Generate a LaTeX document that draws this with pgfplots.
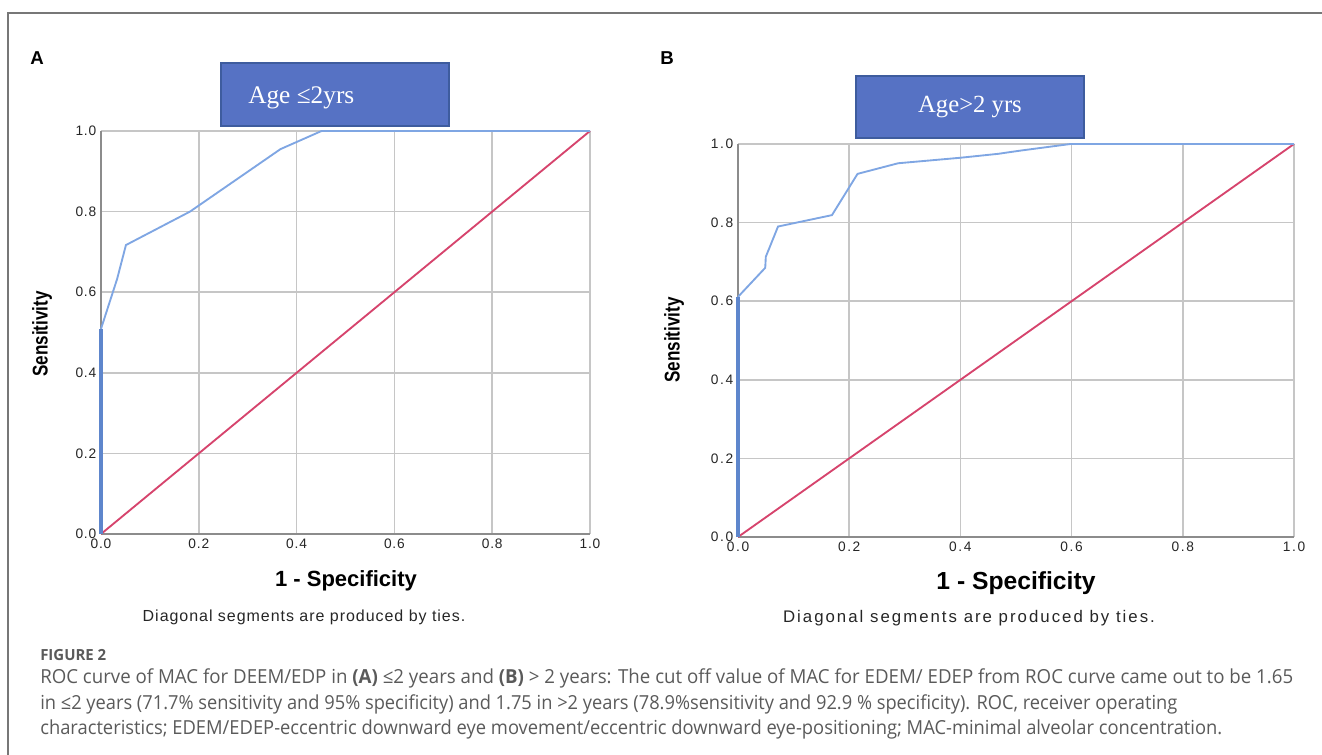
\documentclass[border=0pt]{standalone}
\usepackage{pgfplots}
\pgfplotsset{compat=1.18}
\usepackage{fontspec}
\setmainfont{Liberation Sans}
\newfontfamily\tickfont[LetterSpace=6]{Liberation Sans}
\newfontfamily\tickfontB[LetterSpace=12]{Liberation Sans}
\newfontfamily\boxfont{Liberation Serif}
\newfontfamily\narrowfont[FakeStretch=0.8]{Liberation Sans}
\newfontfamily\capfont{Open Sans}
\definecolor{roc}{HTML}{7FA6E3}
\definecolor{rocdark}{HTML}{5E86CC}
\definecolor{diag}{HTML}{D6446D}
\definecolor{gridc}{HTML}{C6C6C6}
\definecolor{axisc}{HTML}{8C8C8C}
\definecolor{boxfill}{HTML}{5672C4}
\definecolor{boxdraw}{HTML}{3E5C9E}
\definecolor{capc}{HTML}{5A5A5A}
\definecolor{framec}{HTML}{777777}

\pgfplotsset{rocaxis/.style={
  scale only axis, anchor=south west,
  xmin=0, xmax=1, ymin=0, ymax=1,
  xtick={0,0.2,0.4,0.6,0.8,1}, ytick={0,0.2,0.4,0.6,0.8,1},
  xticklabels={0.0,0.2,0.4,0.6,0.8,1.0},
  yticklabels={0.0,0.2,0.4,0.6,0.8,1.0},
  major tick length=0pt,
  grid=major, grid style={gridc, line width=1.1pt},
  axis x line*=bottom, axis y line*=left,
  axis line style={axisc, line width=2.2pt},
  /pgf/number format/assume math mode=true,
  clip=false,
},
overlay/.style={scale only axis, anchor=south west, hide axis,
  xmin=0, xmax=1, ymin=0, ymax=1, clip=false}}

\begin{document}
\begin{tikzpicture}[x=0.75pt,y=-0.75pt]
\useasboundingbox (0,0) rectangle (1322,755);
\draw[framec, line width=1.1pt] (8,755) -- (8,13) -- (1322,13);

% Panel A
\node[font=\bfseries\fontsize{14}{15}\selectfont] at (37,58) {A};
\begin{axis}[rocaxis, at={(75.75pt,-400.5pt)}, width=366.75pt, height=302.25pt,
  tick label style={font=\tickfont\fontsize{10.3}{12}\selectfont, text=black!85}]
\addplot[diag, line width=1.4pt] coordinates {(0,0) (1,1)};
\addplot[roc, line width=1.4pt] coordinates {(0,0.509) (0.033,0.633) (0.051,0.717) (0.182,0.80) (0.367,0.955) (0.451,1.0) (1,1)};
\end{axis}
\begin{axis}[overlay, at={(75.75pt,-400.5pt)}, width=366.75pt, height=302.25pt]
\addplot[rocdark, line width=2.4pt] coordinates {(0,0) (0,0.509)};
\end{axis}
\node[draw=boxdraw, line width=1.5pt, fill=boxfill, minimum width=171pt, minimum height=47pt] at (335,94.5) {};
\node[anchor=west, text=white, font=\boxfont\fontsize{19}{22}\selectfont, inner sep=0pt] at (248,98) {Age ≤2yrs};
\node[font=\narrowfont\bfseries\fontsize{16}{18}\selectfont, rotate=90] at (42,334) {Sensitivity};
\node[font=\bfseries\fontsize{16.5}{18}\selectfont] at (346,581) {1 - Specificity};
\node[font=\tickfont\fontsize{12}{14}\selectfont, text=black!85] at (304,617) {Diagonal segments are produced by ties.};

% Panel B
\node[font=\bfseries\fontsize{14}{15}\selectfont] at (667,58) {B};
\begin{axis}[rocaxis, at={(553.5pt,-402.75pt)}, width=417pt, height=294.75pt,
  tick label style={font=\tickfontB\fontsize{10.3}{12}\selectfont, text=black!85}]
\addplot[diag, line width=1.4pt] coordinates {(0,0) (1,1)};
\addplot[roc, line width=1.4pt] coordinates {(0,0.611) (0.049,0.685) (0.05,0.713) (0.072,0.79) (0.169,0.819) (0.215,0.924) (0.288,0.951) (0.4,0.965) (0.468,0.975) (0.507,0.983) (0.598,1.0) (1,1)};
\end{axis}
\begin{axis}[overlay, at={(553.5pt,-402.75pt)}, width=417pt, height=294.75pt]
\addplot[rocdark, line width=2.4pt] coordinates {(0,0) (0,0.611)};
\end{axis}
\node[draw=boxdraw, line width=1.5pt, fill=boxfill, minimum width=171pt, minimum height=46.5pt,
  text=white, font=\boxfont\fontsize{18.5}{22}\selectfont] at (970,107) {Age>2 yrs};
\node[font=\narrowfont\bfseries\fontsize{16}{18}\selectfont, rotate=90] at (674,340) {Sensitivity};
\node[font=\bfseries\fontsize{18.5}{20}\selectfont] at (1016,583) {1 - Specificity};
\node[font=\tickfontB\fontsize{12.6}{14}\selectfont, text=black!85] at (969,618) {Diagonal segments are produced by ties.};

% Caption
\node[anchor=west, inner sep=0pt, text=capc, font=\capfont\bfseries\fontsize{11.5}{12}\selectfont] at (40,655) {\resizebox{49.5pt}{\height}{FIGURE 2}};
\node[anchor=west, inner sep=0pt, text=capc, font=\capfont\fontsize{14.5}{15}\selectfont] at (40,678)
  {\resizebox{939.75pt}{\height}{ROC curve of MAC for DEEM/EDP in \textbf{(A)} ≤2 years and \textbf{(B)} > 2 years: The cut off value of MAC for EDEM/ EDEP from ROC curve came out to be 1.65}};
\node[anchor=west, inner sep=0pt, text=capc, font=\capfont\fontsize{14.5}{15}\selectfont] at (40,704)
  {\resizebox{852.75pt}{\height}{in ≤2 years (71.7\% sensitivity and 95\% specificity) and 1.75 in >2 years (78.9\%sensitivity and 92.9 \% specificity). ROC, receiver operating}};
\node[anchor=west, inner sep=0pt, text=capc, font=\capfont\fontsize{14.5}{15}\selectfont] at (40,729)
  {\resizebox{886.5pt}{\height}{characteristics; EDEM/EDEP-eccentric downward eye movement/eccentric downward eye-positioning; MAC-minimal alveolar concentration.}};
\end{tikzpicture}
\end{document}
